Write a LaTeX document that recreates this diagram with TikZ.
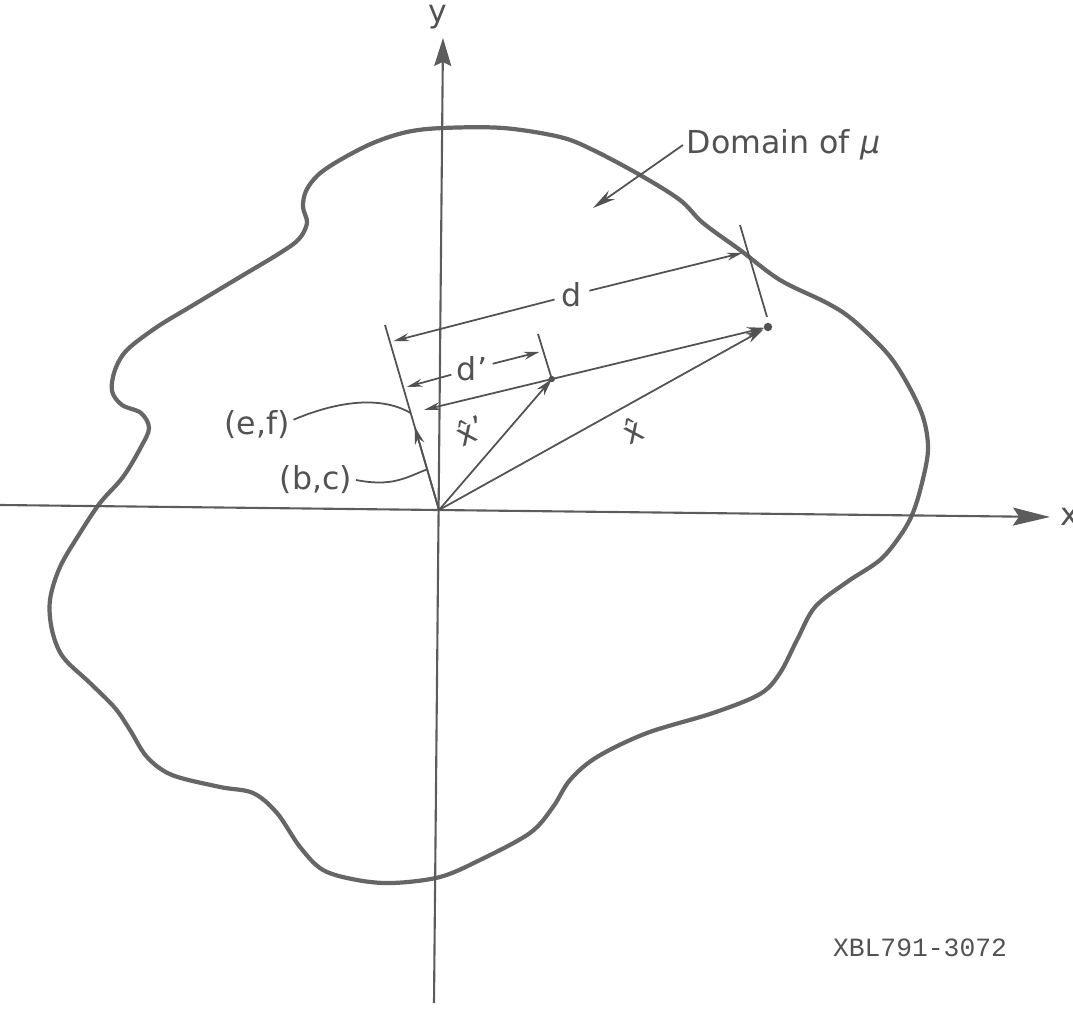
\documentclass[tikz,border=0pt]{standalone}
\usepackage{fontspec}
\setmainfont{DejaVu Sans}
\newfontfamily\tagfont{Liberation Mono}
\usepackage{amsmath}
\usepackage{tikz}
\usetikzlibrary{arrows.meta,calc}
\definecolor{blobline}{gray}{0.40}
\definecolor{axisline}{gray}{0.36}
\definecolor{vecline}{gray}{0.32}

\begin{document}
\begin{tikzpicture}[x=0.02cm,y=-0.02cm]
\tikzset{axis/.style={draw=axisline,line width=1.2pt},
 blob/.style={draw=blobline,line width=2.4pt,line join=round},
 vec/.style={draw=vecline,line width=1pt,-{Stealth[length=10pt,width=5.5pt]}},
 dimarrow/.style={draw=vecline,line width=1pt,-{Stealth[length=9pt,width=4.5pt]},shorten >=2pt},
 tickline/.style={draw=vecline,line width=1pt},
 leader/.style={draw=vecline,line width=1pt},
 lbl/.style={text=vecline,inner sep=2pt}}
\fontsize{18pt}{18pt}
\selectfont
\useasboundingbox (0,0) rectangle (1073,1016);

% domain of mu
\draw[blob] plot[smooth cycle,tension=0.55] coordinates {
 (443,128) (503,128) (560,137) (593,150) (640,175) (680,200) (703,223)
 (740,250) (780,280) (827,303) (853,320) (887,353) (907,383) (923,417)
 (928,450) (921,487) (912,515) (900,536) (880,560) (847,582) (815,607)
 (797,640) (780,673) (760,694) (713,713) (647,733) (597,757) (570,780)
 (553,807) (530,833) (480,860) (440,877) (393,883) (357,880) (323,870)
 (300,847) (277,813) (253,793) (220,787) (172,775) (147,757) (130,730)
 (115,708) (90,683) (63,657) (52,630) (50,600) (60,567) (80,533)
 (100,503) (123,477) (141,447) (149,428) (141,413) (122,405) (112,391)
 (115,370) (127,350) (157,327) (190,307) (240,277) (280,253) (299,239)
 (307,223) (303,207) (306,191) (318,175) (340,160) (373,143) (407,132)};

% axes
\coordinate (O) at (439,510);
\coordinate (xl) at (0,505);
\coordinate (xr) at (1050,517);
\coordinate (yb) at (434,1003);
\coordinate (yt) at (443,38);
\draw[axis,-{Stealth[length=0.74cm,width=0.36cm,inset=0.12cm]}] (xl) -- (xr);
\draw[axis,-{Stealth[length=0.56cm,width=0.34cm,inset=0.08cm]}] (yb) -- (yt);
\node[lbl] (ylab) at (438,17) {y};
\node[lbl] (xlab) at (1070,517) {x};

% normal line and vectors
\coordinate (P) at (768,327);
\coordinate (pt) at (385,325);
\coordinate (ef) at ($(O)!0.524!(pt)$);
\coordinate (bc) at ($(O)!0.45!(pt)$);
\coordinate (bcfoot) at ($(O)!0.22!(pt)$);
\coordinate (Q) at ($(ef)!0.395!(P)$);
\draw[tickline] (O) -- (pt);
\draw[vec] (O) -- (bc);
\draw[vec] (O) -- (Q);
\draw[vec,shorten >=3pt] (O) -- (P);
\draw[vec,{Stealth[length=9pt,width=4.5pt]}-{Stealth[length=10pt,width=5.5pt]},shorten <=8pt,shorten >=2pt] (ef) -- (P);
\fill[vecline] (P) circle[radius=2.4pt];
\fill[vecline] (Q) circle[radius=1.8pt];

% ticks
\coordinate (qt) at (538,334);
\coordinate (bt1) at (740,225);
\coordinate (bt2) at (767,317);
\draw[tickline] (qt) -- (Q);
\draw[tickline] (bt1) -- (bt2);

% dimensions d and d'
\coordinate (dl) at ($(O)!0.908!(pt)$);
\coordinate (dr) at (746,252);
\node[lbl,inner sep=4pt] (dlab) at (572,295) {d};
\draw[dimarrow] (dlab) -- (dl);
\draw[dimarrow] (dlab) -- (dr);
\coordinate (dpl) at ($(O)!0.66!(pt)$);
\coordinate (dpr) at (543,351);
\node[lbl,inner sep=3pt] (dplab) at (472,369) {d'};
\draw[dimarrow] (dplab) -- (dpl);
\draw[dimarrow] (dplab) -- (dpr);

% labels
\node[lbl,rotate=25] (xhp) at (470,430) {x̂'};
\node[lbl,rotate=25] (xh) at (633,430) {x̂};
\node[lbl] (eflab) at (257,425) {(e,f)};
\node[lbl] (bclab) at (316,480) {(b,c)};
\draw[leader] ([yshift=3pt]eflab.east) .. controls (345,398) and (385,398) .. (ef);
\draw[leader] (bclab.east) .. controls (392,487) and (405,478) .. (bcfoot);
\node[lbl,anchor=west] (dom) at (683,145) {Domain of \textit{μ}};
\coordinate (domtip) at (593,208);
\draw[vec,-{Stealth[length=13pt,width=6pt]}] (dom.west) -- (domtip);
\node[text=vecline,font=\tagfont\fontsize{15pt}{15pt}\selectfont] (tag) at (920,948) {XBL791-3072};

\end{tikzpicture}
\end{document}
